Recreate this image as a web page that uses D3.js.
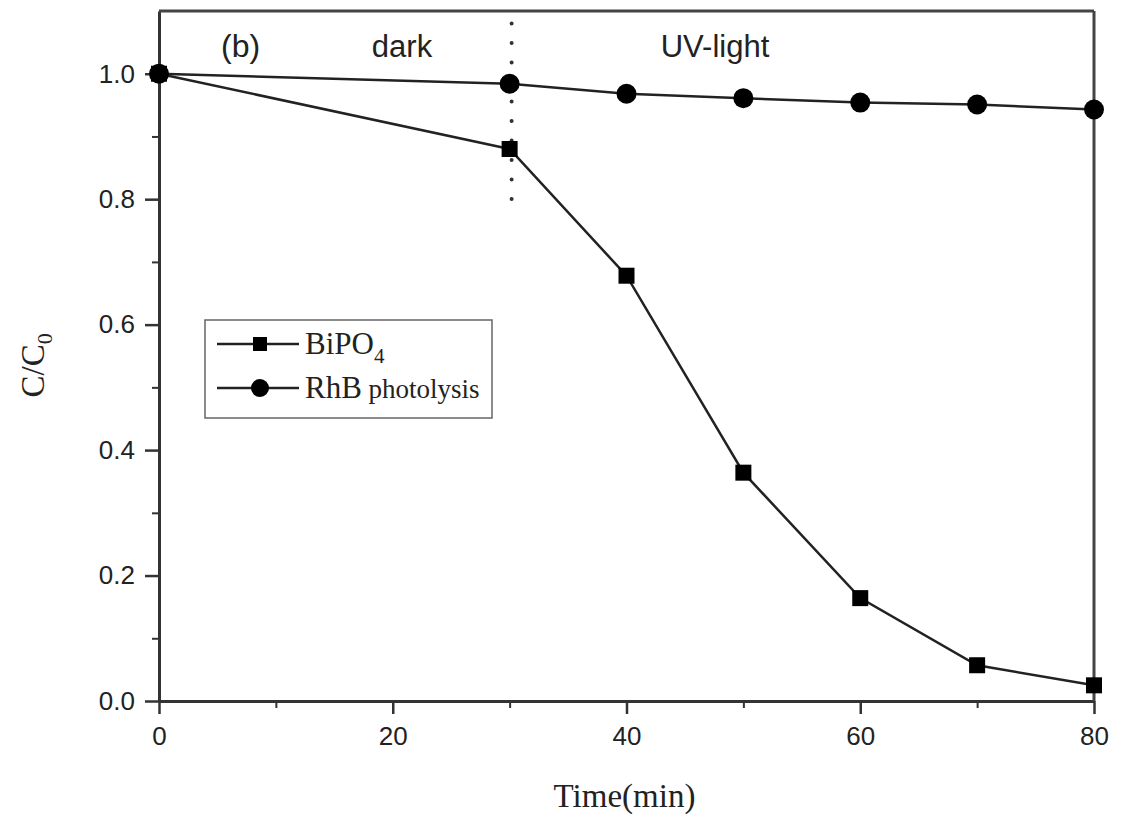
<!DOCTYPE html>
<html>
<head>
<meta charset="utf-8">
<script src="https://cdn.jsdelivr.net/npm/d3@7"></script>
<style>
  body { margin: 0; background: #fff; }
  .tick text { font-family: "Liberation Sans", Arial, sans-serif; font-size: 26px; fill: #222; }
</style>
</head>
<body>
<div id="chart"></div>
<script>
// data
const times = [0, 30, 40, 50, 60, 70, 80];
const bipo4 = [1.0, 0.88, 0.678, 0.364, 0.164, 0.057, 0.025];
const rhb = [1.0, 0.984, 0.968, 0.961, 0.954, 0.951, 0.943];
const xTicks = [0, 20, 40, 60, 80];
const yTicks = [0.0, 0.2, 0.4, 0.6, 0.8, 1.0];

// dimensions and margins
const margin = { top: 11, right: 27, bottom: 119, left: 159 },
    width = 1121 - margin.left - margin.right,
    height = 820 - margin.top - margin.bottom;

const svg = d3.select("#chart")
    .append("svg")
    .attr("width", 1121)
    .attr("height", 820)
    .append("g")
    .attr("transform", `translate(${margin.left}, ${margin.top})`);

const x = d3.scaleLinear().domain([0, 80]).range([0, width]);
const y = d3.scaleLinear().domain([0, 1.1]).range([height, 0]);

// minor ticks first
svg.append("g")
    .attr("transform", `translate(0, ${height})`)
    .call(d3.axisBottom(x).tickValues(d3.range(10, 80, 20)).tickSize(7).tickFormat(""))
    .call(g => g.select(".domain").remove())
    .selectAll("line").attr("stroke", "#333").attr("stroke-width", 2);
svg.append("g")
    .call(d3.axisLeft(y).tickValues([0.1, 0.3, 0.5, 0.7, 0.9]).tickSize(7).tickFormat(""))
    .call(g => g.select(".domain").remove())
    .selectAll("line").attr("stroke", "#333").attr("stroke-width", 2);

// major axes
const xAxis = svg.append("g")
    .attr("transform", `translate(0, ${height})`)
    .call(d3.axisBottom(x).tickValues(xTicks).tickSize(13).tickPadding(13).tickSizeOuter(0));
const yAxis = svg.append("g")
    .call(d3.axisLeft(y).tickValues(yTicks).tickSize(14).tickPadding(10).tickSizeOuter(0)
        .tickFormat(d3.format(".1f")));
[xAxis, yAxis].forEach(g => {
    g.select(".domain").attr("stroke", "#333").attr("stroke-width", 3);
    g.selectAll(".tick line").attr("stroke", "#333").attr("stroke-width", 2.5);
});

// top and right frame
svg.append("line").attr("x1", 0).attr("x2", width).attr("y1", 0).attr("y2", 0)
    .attr("stroke", "#444").attr("stroke-width", 3);
svg.append("line").attr("x1", width).attr("x2", width).attr("y1", 0).attr("y2", height)
    .attr("stroke", "#444").attr("stroke-width", 3);

// dotted separator between dark and UV-light
svg.append("line")
    .attr("x1", x(30) + 2).attr("x2", x(30) + 2)
    .attr("y1", y(1.08)).attr("y2", y(0.8))
    .attr("stroke", "#333").attr("stroke-width", 4)
    .attr("stroke-linecap", "round")
    .attr("stroke-dasharray", "0,19.5");

const line = d3.line().x(d => x(d[0])).y(d => y(d[1]));
const bipoData = times.map((t, i) => [t, bipo4[i]]);
const rhbData = times.map((t, i) => [t, rhb[i]]);

svg.append("path").datum(rhbData).attr("d", line)
    .attr("fill", "none").attr("stroke", "#222").attr("stroke-width", 2.5);
svg.append("path").datum(bipoData).attr("d", line)
    .attr("fill", "none").attr("stroke", "#222").attr("stroke-width", 2.5);

svg.selectAll(".sq").data(bipoData).join("rect")
    .attr("x", d => x(d[0]) - 8).attr("y", d => y(d[1]) - 8)
    .attr("width", 16).attr("height", 16).attr("fill", "#000");
svg.selectAll(".dot").data(rhbData).join("circle")
    .attr("cx", d => x(d[0])).attr("cy", d => y(d[1]))
    .attr("r", 10).attr("fill", "#000");

// panel texts
const sans = "'Liberation Sans', Arial, sans-serif";
const serif = "'Liberation Serif', 'Times New Roman', serif";
svg.append("text").attr("x", 62).attr("y", 46).text("(b)")
    .attr("font-family", sans).attr("font-size", "32px").attr("fill", "#222");
svg.append("text").attr("x", 243).attr("y", 46).text("dark").attr("text-anchor", "middle")
    .attr("font-family", sans).attr("font-size", "31px").attr("fill", "#222");
svg.append("text").attr("x", 556).attr("y", 46).text("UV-light").attr("text-anchor", "middle")
    .attr("font-family", sans).attr("font-size", "31px").attr("fill", "#222");

// axis titles
svg.append("text").attr("x", x(40) - 2).attr("y", height + 106)
    .attr("text-anchor", "middle").attr("font-family", serif).attr("font-size", "33px").attr("fill", "#222")
    .text("Time(min)");
const yt = svg.append("text")
    .attr("transform", `translate(${-115}, ${y(0.535)}) rotate(-90)`)
    .attr("text-anchor", "middle").attr("font-family", serif).attr("font-size", "33px").attr("fill", "#222");
yt.append("tspan").text("C/C");
yt.append("tspan").attr("font-size", "22px").attr("dy", 8).text("0");

// legend
const lg = svg.append("g").attr("transform", `translate(${205 - margin.left}, ${320 - margin.top})`);
lg.append("rect").attr("width", 287).attr("height", 98)
    .attr("fill", "#fff").attr("stroke", "#666").attr("stroke-width", 1.5);
const legendItems = [
    { name: "BiPO", sub: "4", shape: "square", dy: 24 },
    { name: "RhB", sub: null, extra: " photolysis", shape: "circle", dy: 68 }
];
legendItems.forEach(it => {
    lg.append("line").attr("x1", 12).attr("x2", 94).attr("y1", it.dy).attr("y2", it.dy)
        .attr("stroke", "#222").attr("stroke-width", 2.5);
    if (it.shape === "square") {
        lg.append("rect").attr("x", 55 - 7).attr("y", it.dy - 7).attr("width", 14).attr("height", 14).attr("fill", "#000");
    } else {
        lg.append("circle").attr("cx", 55).attr("cy", it.dy).attr("r", 9).attr("fill", "#000");
    }
    const t = lg.append("text").attr("x", 100).attr("y", it.dy + 10)
        .attr("font-family", serif).attr("font-size", "31px").attr("fill", "#222");
    t.append("tspan").text(it.name);
    if (it.sub) t.append("tspan").attr("font-size", "21px").attr("dy", 9).text(it.sub);
    if (it.extra) t.append("tspan").attr("font-size", "27px").text(it.extra);
});
</script>
</body>
</html>
